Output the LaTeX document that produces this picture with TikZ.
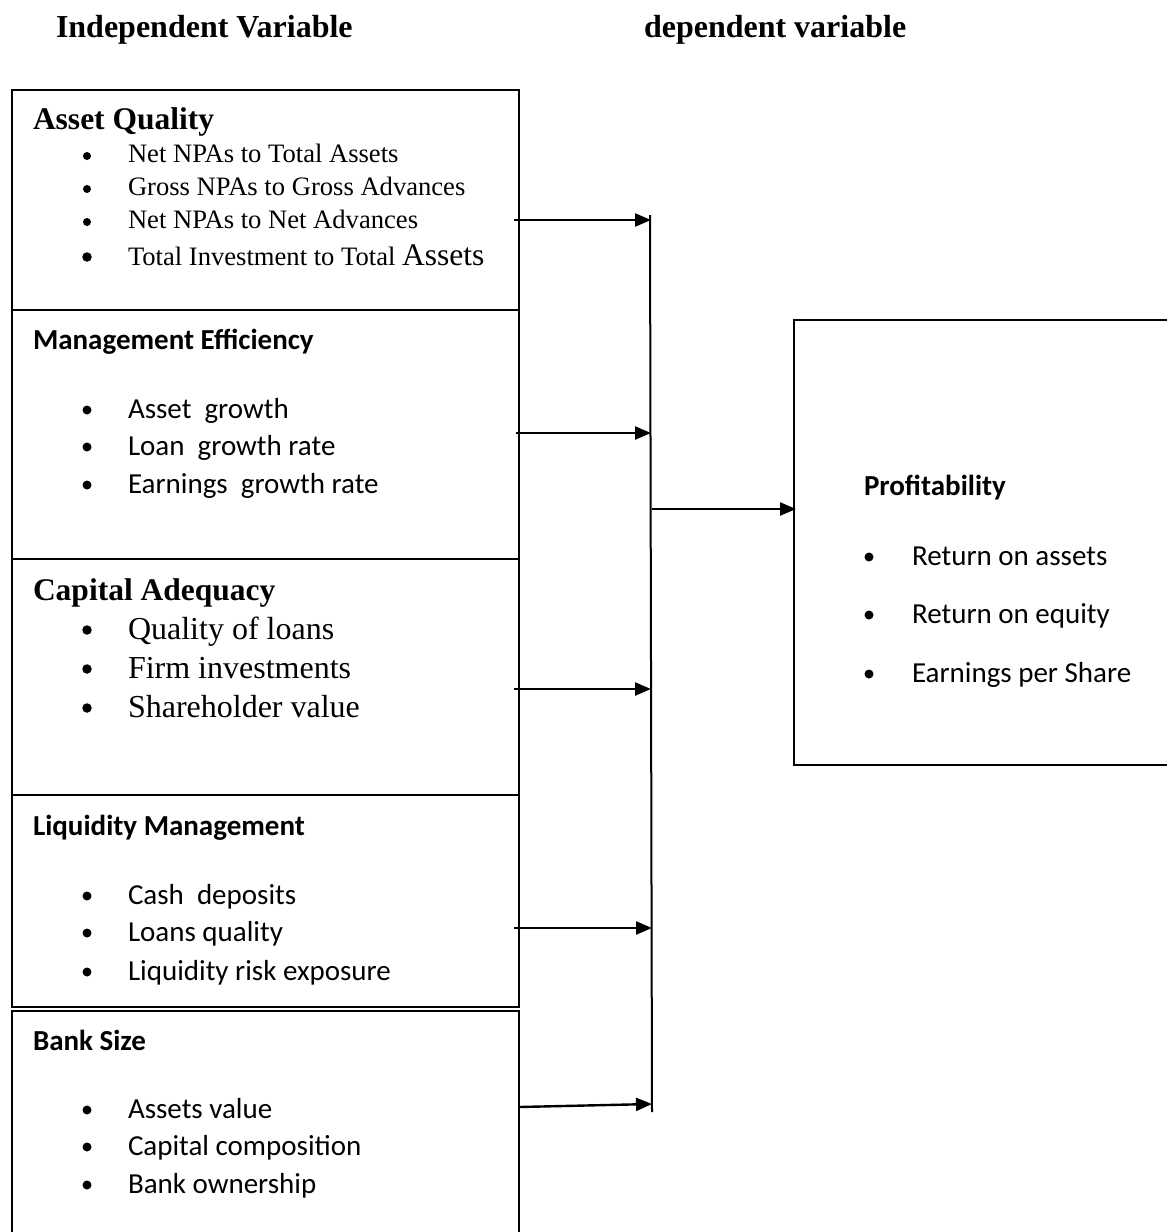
\documentclass[tikz,border=0pt]{standalone}
\usepackage{fontspec}
\setmainfont{Liberation Serif}
\newfontfamily\carlito{Carlito}
\usetikzlibrary{arrows.meta}
\begin{document}
\begin{tikzpicture}[x=1pt,y=-1pt,
  boxline/.style={draw=black,line width=1.8pt},
  panel/.style={boxline,anchor=north west,minimum width=507pt,inner sep=0pt,outer sep=0pt},
  conn/.style={line width=2.4pt,-{Triangle[length=16pt,width=13pt]}},
  bus/.style={line width=2pt},
  txt/.style={anchor=base west,inner sep=0pt,outer sep=0pt},
  ttl/.style={txt,font=\fontsize{32}{36}\selectfont\bfseries},
  sh/.style={txt,font=\fontsize{31.5}{36}\selectfont\bfseries},
  si/.style={txt,font=\fontsize{26.6}{30}\selectfont},
  sil/.style={txt,font=\fontsize{32}{36}\selectfont},
  ch/.style={txt,font=\carlito\fontsize{29}{34}\selectfont\bfseries},
  ci/.style={txt,font=\carlito\fontsize{29}{34}\selectfont},
  bul/.style={circle,fill=black,inner sep=0pt,outer sep=0pt,minimum size=#1},
]
\useasboundingbox (0,0) rectangle (1167,1232);

% titles
\node[ttl] (t1) at (56,37) {Independent Variable};
\node[ttl] (t2) at (644,37) {dependent variable};

% left panels
\node[panel,minimum height=220pt] (aq) at (12,90) {};
\node[panel,minimum height=249pt] (me) at (12,310) {};
\node[panel,minimum height=236pt] (ca) at (12,559) {};
\node[panel,minimum height=212pt] (lm) at (12,795) {};
\draw[boxline] (12,1240) -- (12,1011) -- (519,1011) -- (519,1240);
\coordinate (bs) at (12,1011);

% right panel
\draw[boxline] (1175,320) -- (794,320) -- (794,765) -- (1175,765);
\coordinate (pf) at (794,320);

% Asset Quality
\node[sh] (aqh) at (33,129) {Asset Quality};
\node[si] (aq1) at (128,162) {Net NPAs to Total Assets};
\node[si] (aq2) at (128,195) {Gross NPAs to Gross Advances};
\node[si] (aq3) at (128,228) {Net NPAs to Net Advances};
\node[si] (aq4) at (128,265) {Total Investment to Total {\fontsize{31.5}{36}\selectfont Assets}};
\node[bul=8pt] (aqb1) at (87,156) {};
\node[bul=8pt] (aqb2) at (87,189) {};
\node[bul=8pt] (aqb3) at (87,222) {};
\node[bul=9.5pt] (aqb4) at (87,257) {};

% Management Efficiency
\node[ch] (meh) at (33,349) {Management Efficiency};
\node[ci] (me1) at (128,418) {Asset\ \ growth};
\node[ci] (me2) at (128,455) {Loan\ \ growth rate};
\node[ci] (me3) at (128,493) {Earnings\ \ growth rate};
\node[bul=9pt] (meb1) at (87,410) {};
\node[bul=9pt] (meb2) at (87,447) {};
\node[bul=9pt] (meb3) at (87,485) {};

% Capital Adequacy
\node[sh] (cah) at (33,600) {Capital Adequacy};
\node[sil] (ca1) at (128,639) {Quality of loans};
\node[sil] (ca2) at (128,678) {Firm investments};
\node[sil] (ca3) at (128,717) {Shareholder value};
\node[bul=9.5pt] (cab1) at (87,630) {};
\node[bul=9.5pt] (cab2) at (87,669) {};
\node[bul=9.5pt] (cab3) at (87,708) {};

% Liquidity Management
\node[ch] (lmh) at (33,835) {Liquidity Management};
\node[ci] (lm1) at (128,904) {Cash\ \ deposits};
\node[ci] (lm2) at (128,941) {Loans quality};
\node[ci] (lm3) at (128,980) {Liquidity risk exposure};
\node[bul=9pt] (lmb1) at (87,896) {};
\node[bul=9pt] (lmb2) at (87,933) {};
\node[bul=9pt] (lmb3) at (87,972) {};

% Bank Size
\node[ch] (bsh) at (33,1050) {Bank Size};
\node[ci] (bs1) at (128,1118) {Assets value};
\node[ci] (bs2) at (128,1155) {Capital composition};
\node[ci] (bs3) at (128,1193) {Bank ownership};
\node[bul=9pt] (bsb1) at (87,1110) {};
\node[bul=9pt] (bsb2) at (87,1147) {};
\node[bul=9pt] (bsb3) at (87,1185) {};

% Profitability
\node[ch] (pfh) at (864,495) {Profitability};
\node[ci] (pf1) at (912,565) {Return on assets};
\node[ci] (pf2) at (912,623) {Return on equity};
\node[ci] (pf3) at (912,682) {Earnings per Share};
\node[bul=9pt] (pfb1) at (869,557) {};
\node[bul=9pt] (pfb2) at (869,615) {};
\node[bul=9pt] (pfb3) at (869,674) {};

% bus line
\coordinate (bt) at (650,215);
\coordinate (bb) at (652,1112);
\draw[bus] (bt) -- (bb);

% connectors
\coordinate (a1s) at (514,220);  \coordinate (a1e) at (651,220);
\coordinate (a2s) at (516,433);  \coordinate (a2e) at (651,433);
\coordinate (a3s) at (514,689);  \coordinate (a3e) at (651,689);
\coordinate (a4s) at (514,928);  \coordinate (a4e) at (652,928);
\coordinate (a5s) at (519,1107); \coordinate (a5e) at (652,1104);
\coordinate (a6s) at (652,509);  \coordinate (a6e) at (796,509);
\draw[conn] (a1s) -- (a1e);
\draw[conn] (a2s) -- (a2e);
\draw[conn] (a3s) -- (a3e);
\draw[conn] (a4s) -- (a4e);
\draw[conn] (a5s) -- (a5e);
\draw[conn] (a6s) -- (a6e);
\end{tikzpicture}
\end{document}
